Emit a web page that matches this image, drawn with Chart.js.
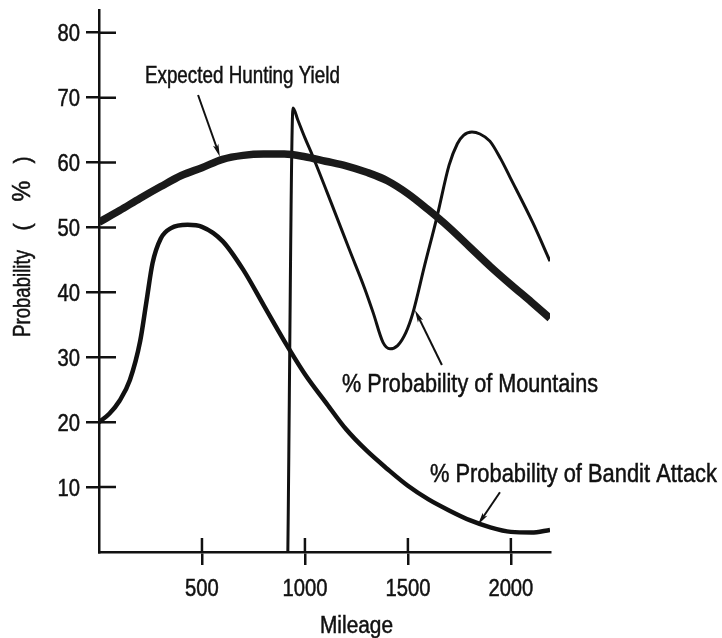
<!DOCTYPE html>
<html>
<head>
<meta charset="utf-8">
<script src="https://cdn.jsdelivr.net/npm/chart.js@4.4.0/dist/chart.umd.min.js"></script>
<style>
  html, body { margin: 0; padding: 0; background: #fff; }
</style>
</head>
<body>
<canvas id="chart" width="722" height="638"></canvas>
<script>
"use strict";

const FONT = '"Liberation Sans", Arial, sans-serif';
const INK = "#111";

// tick labels
const xTicks = [500, 1000, 1500, 2000];
const yTicks = [10, 20, 30, 40, 50, 60, 70, 80];

// expected hunting yield
const huntMiles = [0, 100, 200, 300, 400, 500, 600, 700, 800, 900, 1000, 1100, 1200, 1300, 1400, 1500, 1600, 1700, 1800, 1900, 2000, 2100, 2190];
const huntValues = [50.8, 52.6, 54.5, 56.3, 58.0, 59.2, 60.5, 61.1, 61.3, 61.3, 60.9, 60.2, 59.5, 58.5, 57.2, 55.2, 52.7, 50.0, 47.0, 44.0, 41.2, 38.5, 36.0];

// % probability of bandit attack
const banditMiles = [0, 50, 100, 150, 200, 230, 260, 300, 350, 430, 500, 600, 700, 800, 900, 1000, 1100, 1200, 1300, 1400, 1500, 1600, 1700, 1800, 1900, 2000, 2100, 2190];
const banditValues = [20, 21.3, 23.3, 26.5, 32.5, 38.5, 44.5, 48.3, 49.9, 50.4, 50.1, 47.9, 43.5, 38.0, 32.5, 27.4, 23.1, 18.9, 15.6, 12.8, 10.2, 8.1, 6.4, 4.9, 3.8, 3.1, 3.0, 3.4];

// % probability of mountains
const mountMiles = [917, 942, 965, 1000, 1039, 1130, 1218, 1290, 1332, 1379, 1413, 1450, 1490, 1524, 1580, 1641, 1700, 1740, 1770, 1811, 1850, 1898, 1950, 1995, 2107, 2190];
const mountValues = [0, 68.4, 66.6, 63.8, 60.9, 53.6, 46.4, 40.6, 36.8, 32.3, 31.3, 31.8, 33.8, 36.8, 44.0, 51.6, 59.6, 62.9, 64.2, 64.7, 64.4, 63.3, 60.6, 57.8, 50.7, 44.8];

// callouts, in mileage / percent (width = printed width in px)
const labels = [
  { text: "Expected Hunting Yield", x: 223, y: 72.3, size: 24, width: 195 },
  { text: "% Probability of Mountains", x: 1180, y: 24.7, size: 25, width: 256 },
  { text: "% Probability of Bandit Attack", x: 1607, y: 10.8, size: 25, width: 287 }
];
const arrows = [
  { from: [481, 70.4], to: [587, 60.9] },
  { from: [1665, 28.8], to: [1534, 37.3] },
  { from: [1947, 9.2], to: [1840, 4.2] }
];

function toPoints(xs, ys) {
  return xs.map((x, i) => ({ x: x, y: ys[i] }));
}

// condensed look: squeeze the text horizontally by sx
function squeezeText(ctx, text, x, y, size, sx, align) {
  ctx.font = size + "px " + FONT;
  ctx.save();
  ctx.translate(x, y);
  ctx.scale(sx, 1);
  ctx.textAlign = align;
  ctx.textBaseline = "alphabetic";
  ctx.lineWidth = 0.5;
  ctx.fillText(text, 0, 0);
  ctx.strokeText(text, 0, 0);
  ctx.restore();
}

function fitText(ctx, text, x, y, size, width, align) {
  ctx.font = size + "px " + FONT;
  const w = ctx.measureText(text).width;
  squeezeText(ctx, text, x, y, size, width / w, align);
}

function drawArrow(ctx, x1, y1, x2, y2) {
  const ang = Math.atan2(y2 - y1, x2 - x1);
  const len = 13;
  const spread = 0.22;
  ctx.beginPath();
  ctx.moveTo(x1, y1);
  ctx.lineTo(x2 - Math.cos(ang) * 6, y2 - Math.sin(ang) * 6);
  ctx.stroke();
  ctx.beginPath();
  ctx.moveTo(x2, y2);
  ctx.lineTo(x2 - len * Math.cos(ang - spread), y2 - len * Math.sin(ang - spread));
  ctx.lineTo(x2 - len * 0.75 * Math.cos(ang), y2 - len * 0.75 * Math.sin(ang));
  ctx.lineTo(x2 - len * Math.cos(ang + spread), y2 - len * Math.sin(ang + spread));
  ctx.closePath();
  ctx.fill();
}

const sketchPlugin = {
  id: "sketch",
  afterDraw(chart) {
    const ctx = chart.ctx;
    const xs = chart.scales.x;
    const ys = chart.scales.y;
    const area = chart.chartArea;
    ctx.save();
    ctx.strokeStyle = INK;
    ctx.fillStyle = INK;

    // inner half of the crossing tick marks
    ctx.lineWidth = 2.5;
    ctx.beginPath();
    yTicks.forEach(v => {
      const py = ys.getPixelForValue(v);
      ctx.moveTo(area.left, py);
      ctx.lineTo(area.left + 17, py);
    });
    xTicks.forEach(v => {
      const px = xs.getPixelForValue(v);
      ctx.moveTo(px, area.bottom);
      ctx.lineTo(px, area.bottom - 14);
    });
    ctx.stroke();

    // tick labels
    yTicks.forEach(v => {
      squeezeText(ctx, String(v), area.left - 19, ys.getPixelForValue(v) + 8.5, 23.5, 0.86, "right");
    });
    xTicks.forEach(v => {
      squeezeText(ctx, String(v), xs.getPixelForValue(v), area.bottom + 44, 23.5, 0.86, "center");
    });

    // callout arrows
    ctx.lineWidth = 2;
    arrows.forEach(a => {
      drawArrow(ctx,
        xs.getPixelForValue(a.from[0]), ys.getPixelForValue(a.from[1]),
        xs.getPixelForValue(a.to[0]), ys.getPixelForValue(a.to[1]));
    });

    // callout texts
    labels.forEach(l => {
      fitText(ctx, l.text, xs.getPixelForValue(l.x), ys.getPixelForValue(l.y), l.size, l.width, "left");
    });

    // axis titles
    fitText(ctx, "Mileage", (area.left + area.right) / 2 + 32, area.bottom + 81, 23.5, 73, "center");

    ctx.save();
    ctx.translate(30, 337);
    ctx.rotate(-Math.PI / 2);
    fitText(ctx, "Probability", 0, 0, 24, 87, "left");
    squeezeText(ctx, "(", 110, 0, 24, 0.9, "center");
    squeezeText(ctx, "%", 146, 0, 26, 0.9, "center");
    squeezeText(ctx, ")", 177, 0, 24, 0.9, "center");
    ctx.restore();

    ctx.restore();
  }
};

const lineStyle = {
  pointRadius: 0,
  borderColor: INK,
  cubicInterpolationMode: "monotone",
  fill: false
};

const config = {
  type: "line",
  data: {
    datasets: [
      Object.assign({ label: "Expected Hunting Yield", data: toPoints(huntMiles, huntValues), borderWidth: 7.5 }, lineStyle, { borderColor: "#1a1a1a" }),
      Object.assign({ label: "% Probability of Bandit Attack", data: toPoints(banditMiles, banditValues), borderWidth: 4.5 }, lineStyle),
      Object.assign({ label: "% Probability of Mountains", data: toPoints(mountMiles, mountValues), borderWidth: 3 }, lineStyle)
    ]
  },
  options: {
    responsive: false,
    animation: false,
    devicePixelRatio: 1,
    layout: { padding: { top: 10, right: 172, left: 0, bottom: 0 } },
    plugins: {
      legend: { display: false },
      tooltip: { enabled: false }
    },
    scales: {
      x: {
        type: "linear",
        min: 0,
        max: 2190,
        afterBuildTicks: scale => { scale.ticks = xTicks.map(v => ({ value: v })); },
        afterFit: scale => { scale.height = 86; },
        border: { display: true, color: INK, width: 2.5 },
        grid: { drawOnChartArea: false, drawTicks: true, tickLength: 13, color: INK, lineWidth: 2.5 },
        ticks: { display: false }
      },
      y: {
        type: "linear",
        min: 0,
        max: 83.5,
        afterBuildTicks: scale => { scale.ticks = yTicks.map(v => ({ value: v })); },
        afterFit: scale => { scale.width = 99; },
        border: { display: true, color: INK, width: 2.5 },
        grid: { drawOnChartArea: false, drawTicks: true, tickLength: 13, color: INK, lineWidth: 2.5 },
        ticks: { display: false }
      }
    }
  },
  plugins: [sketchPlugin]
};

const myChart = new Chart(document.getElementById("chart"), config);
</script>
</body>
</html>
